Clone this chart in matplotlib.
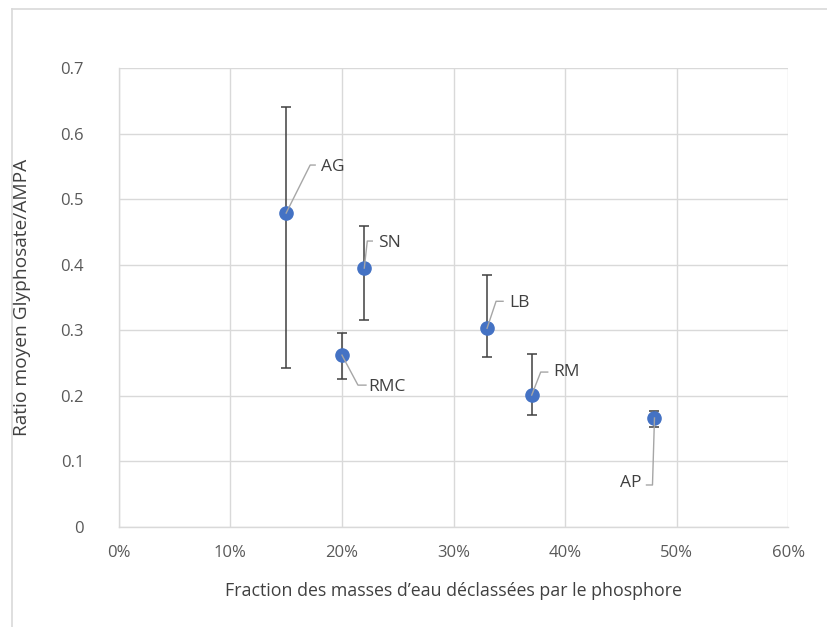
"""Ratio moyen Glyphosate/AMPA vs fraction des masses d'eau déclassées."""

import matplotlib.pyplot as plt
from matplotlib.lines import Line2D
from matplotlib.transforms import IdentityTransform
from matplotlib.ticker import FuncFormatter, MultipleLocator

# Data
sites = ["AG", "SN", "RMC", "LB", "RM", "AP"]
fraction = [0.15, 0.22, 0.20, 0.33, 0.37, 0.48]
ratio = [0.479, 0.395, 0.262, 0.303, 0.201, 0.166]
err_low = [0.236, 0.079, 0.037, 0.044, 0.031, 0.013]
err_high = [0.162, 0.064, 0.034, 0.082, 0.062, 0.011]

# Label placement (pixels): elbow of leader, end of leader, text anchor, alignment
LABEL_OFFSETS = {
    "AG": ((24, 48), (29, 48), (35, 46), "left"),
    "SN": ((3, 27), (8, 27), (14, 25), "left"),
    "RMC": ((16, -30), (24, -30), (26, -32), "left"),
    "LB": ((9, 27), (16, 27), (22, 25), "left"),
    "RM": ((9, 23), (16, 23), (22, 23), "left"),
    "AP": ((-2, -67), (-8, -67), (-13, -65), "right"),
}

BLUE = "#4472C4"
GRID = "#d9d9d9"
TEXT = "#595959"
LEADER = "#a6a6a6"

plt.rcParams["font.family"] = ["Open Sans", "DejaVu Sans"]

fig = plt.figure(figsize=(8.28, 6.27), dpi=100)
ax = fig.add_axes([0.1434, 0.160, 0.8088, 0.731])

ax.errorbar(
    fraction,
    ratio,
    yerr=[err_low, err_high],
    fmt="o",
    color=BLUE,
    markersize=9.5,
    ecolor="#404040",
    elinewidth=1.1,
    capsize=3.5,
    capthick=1.1,
    zorder=3,
)

ax.set_xlim(0, 0.6)
ax.set_ylim(0, 0.7)
ax.xaxis.set_major_locator(MultipleLocator(0.1))
ax.yaxis.set_major_locator(MultipleLocator(0.1))
ax.xaxis.set_major_formatter(FuncFormatter(lambda v, _: f"{v * 100:.0f}%"))
ax.yaxis.set_major_formatter(FuncFormatter(lambda v, _: "0" if abs(v) < 1e-9 else f"{v:.1f}"))

ax.grid(True, color=GRID, linewidth=1.0)
ax.set_axisbelow(True)
for side in ["top", "right"]:
    ax.spines[side].set_visible(False)
for side in ["left", "bottom"]:
    ax.spines[side].set_color(GRID)
    ax.spines[side].set_linewidth(1.0)
ax.tick_params(length=0, colors=TEXT, labelsize=12)
ax.tick_params(axis="x", pad=13)
ax.tick_params(axis="y", pad=25)

ax.set_xlabel("Fraction des masses d\u2019eau déclassées par le phosphore",
              fontsize=12.8, color="#404040")
ax.set_ylabel("Ratio moyen Glyphosate/AMPA", fontsize=13.8, color="#404040")
ax.xaxis.set_label_coords(0.5, -0.121)
ax.yaxis.set_label_coords(-0.131, 0.5)

# data labels with Excel-style leader lines, drawn in pixel space
fig.canvas.draw()
for name, x, y in zip(sites, fraction, ratio):
    px, py = ax.transData.transform((x, y))
    (ex, ey), (hx, hy), (tx, ty), ha = LABEL_OFFSETS[name]
    fig.add_artist(Line2D([px, px + ex, px + hx], [py, py + ey, py + hy],
                          transform=IdentityTransform(), color=LEADER,
                          linewidth=1.0, zorder=2))
    fig.text(px + tx, py + ty, name, transform=IdentityTransform(),
             ha=ha, va="center", fontsize=12.5, color="#404040")

# outer chart frame (only top and left edges visible in the reference)
fig.add_artist(Line2D([0.0141, 1.0], [0.985, 0.985], transform=fig.transFigure,
                      color=GRID, linewidth=1.2))
fig.add_artist(Line2D([0.0141, 0.0141], [0.0, 0.985], transform=fig.transFigure,
                      color=GRID, linewidth=1.2))

fig.savefig("out.png", dpi=100)
